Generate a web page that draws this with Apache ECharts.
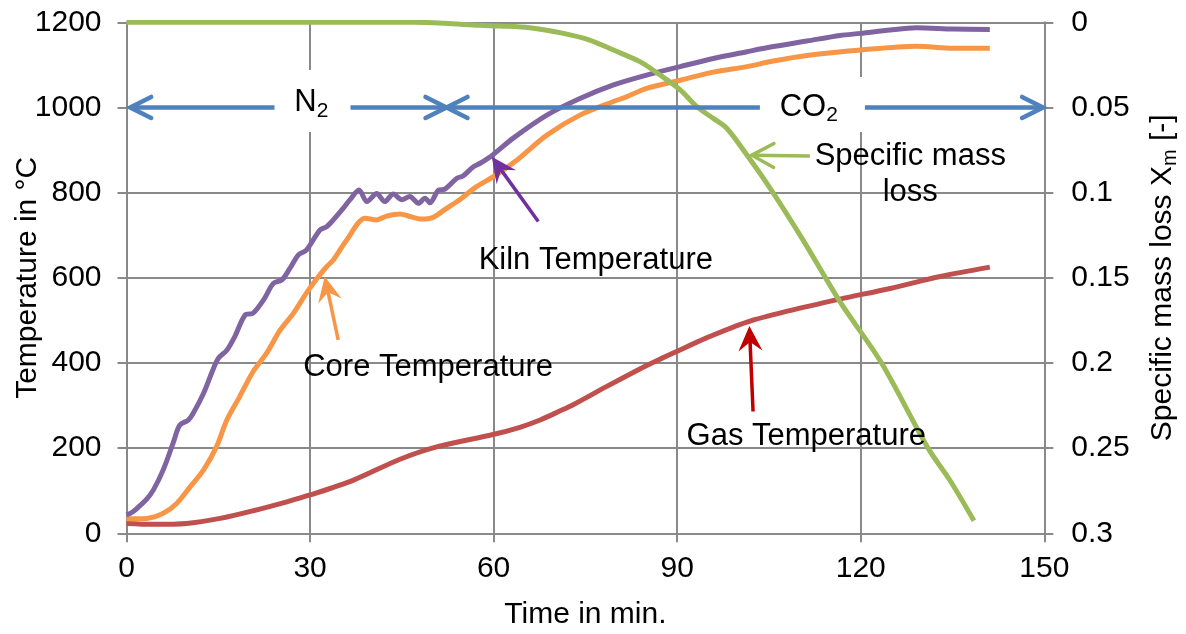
<!DOCTYPE html>
<html><head><meta charset="utf-8">
<script src="https://cdn.jsdelivr.net/npm/echarts/dist/echarts.min.js"></script>
<style>html,body{margin:0;padding:0;background:#fff}#c{width:1186px;height:634px}</style>
</head><body><div id="c"></div>
<script>
// ---- data (time in min, value) ----
const kilnTemp = [[0,43],[1,50],[2.2,65],[3.3,80],[4.4,102],[6,149],[7.6,211],[8.7,254],[10.1,266],[10.9,282],[12.6,329],[13.9,376],[15,411],[16.4,430],[17.7,462],[19.4,513],[20.7,517],[22.4,548],[24,587],[25.4,595],[26.7,622],[28.1,654],[29.4,665],[31.6,712],[32.7,720],[33.8,736],[35.4,763],[36.5,783],[38,806],[39.3,779],[40.9,798],[42.2,779],[43.6,797],[45,783],[46.3,791],[47.7,775],[48.8,787],[49.6,776],[51,806],[52,808],[54,834],[55,839],[56.7,861],[57.8,869],[59.8,888],[63.2,928],[68.7,982],[74.1,1021],[79.6,1053],[85,1076],[90.5,1096],[95.9,1115],[101.4,1131],[105.7,1143],[111.2,1156],[116.6,1169],[120,1174],[124.8,1182],[129.1,1187],[135.1,1184],[141.1,1183]];
const coreTemp = [[0,34],[3.3,35],[6,47],[8.2,70],[10.4,109],[12.6,149],[14.7,203],[16.4,266],[18.5,321],[20.7,380],[22.9,423],[25.1,477],[27.3,517],[29.4,564],[31.6,607],[32.7,626],[33.8,642],[36,689],[39,740],[40.9,736],[42.5,745],[44.7,750],[46.3,744],[48.2,738],[50.1,742],[52.3,763],[54.5,784],[57.2,814],[59.9,837],[63.5,873],[68.7,935],[74.1,982],[79.6,1014],[81.7,1025],[85,1045],[90.5,1064],[95.9,1083],[101.4,1096],[105.7,1109],[111.2,1122],[120,1135],[129.1,1144],[135.1,1139],[141.1,1139]];
const gasTemp = [[0,23],[4.4,21],[9.8,23],[15.3,35],[20.7,53],[26.2,74],[30,90],[37.1,125],[44.7,174],[50.7,203],[59.9,232],[64.3,249],[67.6,266],[70.8,287],[73,302],[78.5,345],[83.9,386],[87.2,409],[89.9,427],[94.8,459],[101.4,496],[108.4,523],[116.6,550],[124.8,575],[133,603],[141.1,625]];
const massLoss = [[0,0],[30,0],[47,0],[52,0.0006],[57.8,0.0018],[61,0.0022],[65.9,0.0032],[71.4,0.0065],[75.7,0.0104],[79.6,0.0163],[83.9,0.0231],[87.2,0.0309],[90.5,0.0397],[93.2,0.0495],[95.9,0.0564],[98.1,0.0622],[101.4,0.0779],[105.2,0.0975],[110.6,0.128],[116.6,0.164],[123.4,0.2],[131,0.25],[134.6,0.269],[138.5,0.2926]];
const seriesNames = ['Gas Temperature','Core Temperature','Kiln Temperature','Specific mass loss'];

// ---- annotations (data units of left axis) ----
const gasPhaseArrows = [
  {from:[52.3,1000], to:[0.6,1000], label:'{a|N}{s|2}', at:[30.2,1012], box:[76,62], boxAt:[30.4,1015]},
  {from:[52.3,1000], to:[149.8,1000], label:'{a|CO}{s|2}', at:[111.5,1001], box:[105,55], boxAt:[112.1,1007]}
];
const calloutArrows = [
  {from:[67.3,732], to:[59.7,884], color:'#7030A0', head:'stealth'},
  {from:[34.6,454], to:[32.4,603], color:'#F79646', head:'stealth'},
  {from:[102.4,286], to:[101.8,487], color:'#C00000', head:'stealth'},
  {from:[111.7,886], to:[102.2,888], color:'#9BBB59', head:'open'}
];
const calloutTexts = [
  {text:'Kiln Temperature', at:[76.7,640]},
  {text:'Core Temperature', at:[49.3,389]},
  {text:'Gas Temperature', at:[111.1,228]},
  {text:'Specific mass\nloss', at:[128.1,843]}
];

const FONT = 'Liberation Sans, Arial, sans-serif';
const GRID = '#898989';
const chart = echarts.init(document.getElementById('c'), null, {renderer:'canvas'});
function line(name, data, color, yi){
  return {name, type:'line', data, yAxisIndex:yi, showSymbol:false, smooth:0.3,
    lineStyle:{color, width:5}, itemStyle:{color}, animation:false};
}
chart.setOption({
  animation:false,
  grid:{left:126.5, right:141.7, top:22.3, bottom:100.7, containLabel:false, outerBoundsMode:'none'},
  xAxis:{type:'value', min:0, max:150, interval:30,
    name:'Time in min.', nameLocation:'middle', nameGap:66, nameMoveOverlap:false,
    nameTextStyle:{fontSize:30, color:'#000', fontFamily:FONT},
    axisLine:{show:true, lineStyle:{color:GRID, width:2}},
    axisTick:{show:true, inside:false, length:9, lineStyle:{color:GRID, width:2}},
    axisLabel:{fontSize:30, color:'#000', fontFamily:FONT, margin:20},
    splitLine:{show:true, lineStyle:{color:GRID, width:2}}},
  yAxis:[
    {type:'value', min:0, max:1200, interval:200, position:'left',
     name:'Temperature in °C', nameLocation:'middle', nameGap:84, nameRotate:90, nameMoveOverlap:false,
     nameTextStyle:{fontSize:30, color:'#000', fontFamily:FONT},
     axisLine:{show:true, lineStyle:{color:GRID, width:2}},
     axisTick:{show:true, inside:false, length:9, lineStyle:{color:GRID, width:2}},
     axisLabel:{fontSize:30, color:'#000', fontFamily:FONT, margin:25, formatter:v=>String(v)},
     splitLine:{show:true, lineStyle:{color:GRID, width:2}}},
    {type:'value', min:0, max:0.3, interval:0.05, position:'right', inverse:true,
     name:'{a|Specific mass loss X}{s|m}{a| [-]}', nameLocation:'middle', nameGap:100, nameRotate:90, nameMoveOverlap:false,
     nameTextStyle:{fontSize:30, color:'#000', fontFamily:FONT,
       rich:{a:{fontSize:30, fontFamily:FONT, color:'#000', lineHeight:36},
             s:{fontSize:20, fontFamily:FONT, color:'#000', lineHeight:18, verticalAlign:'bottom'}}},
     axisLine:{show:true, lineStyle:{color:GRID, width:2}},
     axisTick:{show:true, inside:false, length:9, lineStyle:{color:GRID, width:2}},
     axisLabel:{fontSize:30, color:'#000', fontFamily:FONT, margin:27, formatter:v=>String(+v.toFixed(2))},
     splitLine:{show:false}}
  ],
  series:[
    line(seriesNames[0], gasTemp, '#C0504D', 0),
    line(seriesNames[1], coreTemp, '#F79646', 0),
    line(seriesNames[2], kilnTemp, '#8064A2', 0),
    line(seriesNames[3], massLoss, '#9BBB59', 1)
  ]
});

function P(p){ return chart.convertToPixel({xAxisIndex:0, yAxisIndex:0}, p); }
function dirs(a,b){ const dx=b[0]-a[0], dy=b[1]-a[1], L=Math.hypot(dx,dy); return [dx/L, dy/L]; }
const g = [];
function openHead(tip, from, color, len, half, w){
  const [ux,uy]=dirs(from,tip); const px=-uy, py=ux;
  const bx=tip[0]-ux*len, by=tip[1]-uy*len;
  g.push({type:'polyline', z:110, shape:{points:[[bx+px*half,by+py*half],tip,[bx-px*half,by-py*half]]},
    style:{stroke:color, lineWidth:w, fill:null, lineCap:'round', lineJoin:'miter'}});
}
function stealthHead(tip, from, color, len, half, notch){
  const [ux,uy]=dirs(from,tip); const px=-uy, py=ux;
  const bx=tip[0]-ux*len, by=tip[1]-uy*len;
  g.push({type:'polygon', z:110, shape:{points:[tip,[bx+px*half,by+py*half],[tip[0]-ux*notch,tip[1]-uy*notch],[bx-px*half,by-py*half]]},
    style:{fill:color, stroke:null}});
  return [tip[0]-ux*notch, tip[1]-uy*notch];
}
gasPhaseArrows.forEach(a=>{
  const A=P(a.from), B=P(a.to);
  g.push({type:'polyline', z:105, shape:{points:[A,B]}, style:{stroke:'#4F81BD', lineWidth:4.5, fill:null}});
  openHead(B, A, '#4F81BD', 21, 10.5, 4.5);
  openHead(A, B, '#4F81BD', 21, 10.5, 4.5);
});
gasPhaseArrows.forEach(a=>{
  const c=P(a.boxAt);
  g.push({type:'rect', z:106, shape:{x:c[0]-a.box[0]/2, y:c[1]-a.box[1]/2, width:a.box[0], height:a.box[1]}, style:{fill:'#fff'}});
  const t=P(a.at);
  g.push({type:'text', z:107, x:t[0], y:t[1], style:{text:a.label, align:'center', verticalAlign:'middle',
    fontSize:31, fontFamily:FONT, fill:'#000',
    rich:{a:{fontSize:31, fontFamily:FONT, fill:'#000', lineHeight:38},
          s:{fontSize:21, fontFamily:FONT, fill:'#000', lineHeight:18, verticalAlign:'bottom'}}}});
});
calloutArrows.forEach(a=>{
  const A=P(a.from), B=P(a.to);
  if(a.head==='open'){
    g.push({type:'polyline', z:105, shape:{points:[A,B]}, style:{stroke:a.color, lineWidth:3.5, fill:null}});
    openHead(B, A, a.color, 22, 12, 3.5);
  } else {
    const n = stealthHead(B, A, a.color, 25, 12, 16);
    g.push({type:'polyline', z:105, shape:{points:[A,n]}, style:{stroke:a.color, lineWidth:3.5, fill:null}});
  }
});
calloutTexts.forEach(a=>{
  const t=P(a.at);
  g.push({type:'text', z:107, x:t[0], y:t[1], style:{text:a.text, align:'center', verticalAlign:'middle',
    fontSize:31, lineHeight:36, fontFamily:FONT, fill:'#000'}});
});
chart.setOption({graphic:{elements:g}});
</script></body></html>
